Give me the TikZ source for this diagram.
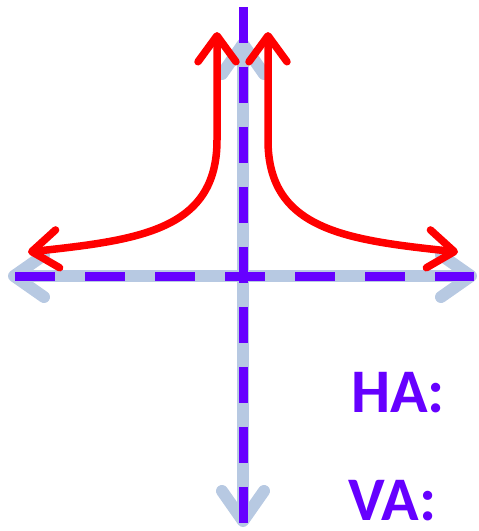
\documentclass[tikz,border=0pt]{standalone}
\usepackage{fontspec}
\setmainfont{Carlito}
\usetikzlibrary{arrows.meta}
\definecolor{axisblue}{RGB}{183,201,226}
\definecolor{asympurple}{RGB}{102,0,255}
\definecolor{curvered}{RGB}{255,0,0}
\tikzset{
  axisline/.style={draw=axisblue,line width=12pt,line cap=round,
    arrows={Straight Barb[length=30pt,width=42pt,round]-Straight Barb[length=30pt,width=42pt,round]}},
  asymline/.style={draw=asympurple,line width=9pt},
  curveline/.style={draw=curvered,line width=7.5pt,line cap=round,
    arrows={Straight Barb[length=26pt,width=38pt,round]-Straight Barb[length=26pt,width=38pt,round]}},
  label/.style={text=asympurple,font=\fontsize{62}{62}\selectfont\bfseries,inner sep=0pt,text depth=0pt,anchor=base west}
}
\begin{document}
\begin{tikzpicture}[x=1pt,y=-1pt]
\useasboundingbox (0,0) rectangle (479,531);
% axes
\coordinate (xl) at (8,276);
\coordinate (xr) at (477,276);
\coordinate (yt) at (243,38);
\coordinate (yb) at (243,527);
\draw[axisline] (xl) -- (xr);
\draw[axisline] (yb) -- (yt);
% asymptotes
\coordinate (hal) at (15,276);
\coordinate (har) at (474,276);
\coordinate (vat) at (243,7);
\coordinate (vab) at (243,527);
\draw[asymline,dash pattern=on 40pt off 30pt] (hal) -- (har);
\draw[asymline,dash pattern=on 36pt off 24pt] (vat) -- (vab);
% curves
\coordinate (lt) at (28,252);
\coordinate (lm) at (217,140);
\coordinate (lu) at (217,32);
\coordinate (rt) at (458,252);
\coordinate (rm) at (268,140);
\coordinate (ru) at (268,32);
\draw[curveline] (lt) .. controls (140,240) and (217,230) .. (lm) -- (lu);
\draw[curveline] (rt) .. controls (346,240) and (268,230) .. (rm) -- (ru);
% labels
\node[label] (ha) at (351,412) {HA:};
\node[label] (va) at (348,520) {VA:};
\end{tikzpicture}
\end{document}
